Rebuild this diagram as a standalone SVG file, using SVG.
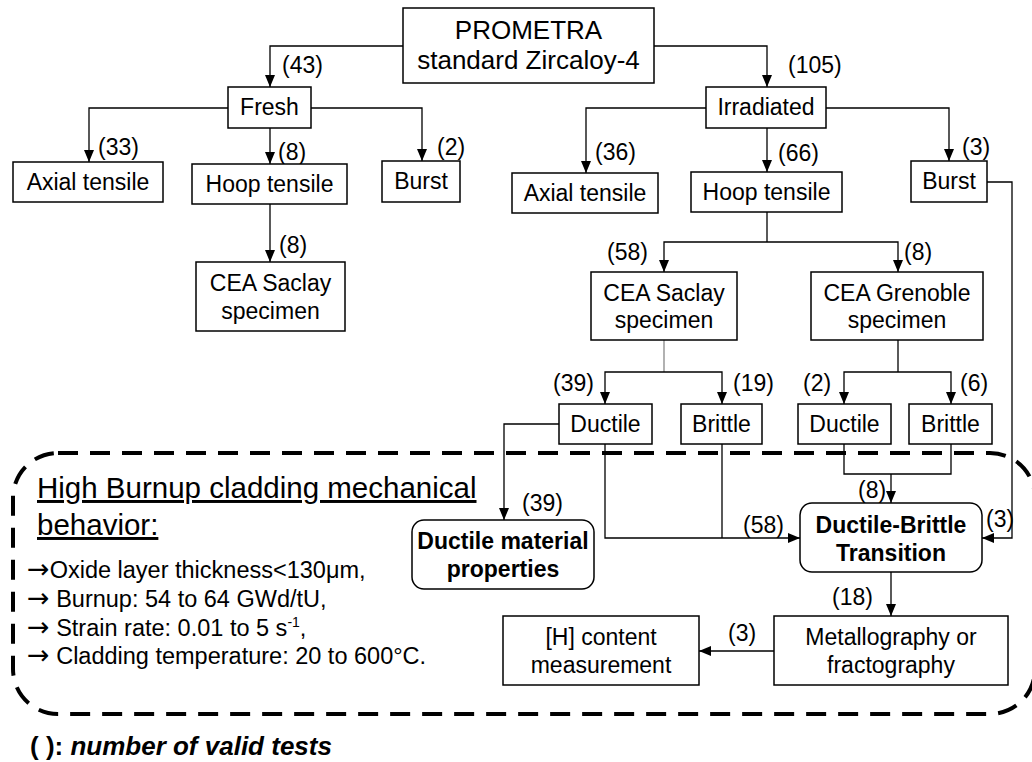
<svg xmlns="http://www.w3.org/2000/svg" width="1032" height="762" viewBox="0 0 1032 762">
<defs>
<marker id="arr" markerUnits="userSpaceOnUse" markerWidth="12" markerHeight="10" refX="12" refY="5" orient="auto">
<path d="M0,0 L12,5 L0,10 z" fill="#000"/>
</marker>
<style>
.box{fill:#fff;stroke:#000;stroke-width:1.5}
.t{font-family:"Liberation Sans",Arial,sans-serif;font-size:23px;fill:#000;text-anchor:middle}
.b{font-weight:bold}
.lbl{font-family:"Liberation Sans",Arial,sans-serif;font-size:23px;fill:#000}
.c{fill:none;stroke:#000;stroke-width:1.3}
.ca{fill:none;stroke:#000;stroke-width:1.3;marker-end:url(#arr)}
.g{stroke:#888}
.note{font-family:"Liberation Sans",Arial,sans-serif;fill:#000}
.ar{font-family:"DejaVu Sans",sans-serif;font-size:27px}
</style>
</defs>
<rect x="0" y="0" width="1032" height="762" fill="#fff"/>

<g id="region">
<rect x="13" y="453" width="1022" height="261" rx="45" ry="45" fill="none" stroke="#000" stroke-width="4" stroke-dasharray="20 12"/>
</g>

<g id="connectors">
<path class="ca" d="M403,46 H270 V87"/>
<path class="ca" d="M654,46 H767 V87"/>
<path class="ca" d="M228,108 H89 V162"/>
<path class="ca" d="M270,128 V164"/>
<path class="ca" d="M311,108 H422 V161"/>
<path class="ca" d="M270,204 V262"/>
<path class="ca" d="M706,108 H586 V173"/>
<path class="ca" d="M767,128 V172"/>
<path class="ca" d="M826,108 H949 V161"/>
<path class="c" d="M767,212 V242"/>
<path class="ca" d="M767,242 H664 V272"/>
<path class="ca" d="M767,242 H898 V272"/>
<path class="c g" d="M664,340 V372"/>
<path class="ca" d="M664,372 H605 V404"/>
<path class="ca" d="M664,372 H722 V404"/>
<path class="c" d="M898,340 V372"/>
<path class="ca" d="M898,372 H844 V404"/>
<path class="ca" d="M898,372 H951 V404"/>
<path class="ca" d="M559,424 H504 V520"/>
<path class="ca" d="M605,444 V538 H800"/>
<path class="c" d="M722,444 V538"/>
<path class="c" d="M844,444 V474 H951 V444"/>
<path class="ca" d="M891,474 V503"/>
<path class="ca" d="M987,182 H1012 V538 H982"/>
<path class="ca" d="M891,572 V616"/>
<path class="ca" d="M774,651 H699"/>
</g>

<g id="labels">
<text class="lbl" x="282" y="73">(43)</text>
<text class="lbl" x="788" y="73">(105)</text>
<text class="lbl" x="98" y="155">(33)</text>
<text class="lbl" x="278" y="160">(8)</text>
<text class="lbl" x="437" y="155">(2)</text>
<text class="lbl" x="279" y="253">(8)</text>
<text class="lbl" x="595" y="160">(36)</text>
<text class="lbl" x="778" y="161">(66)</text>
<text class="lbl" x="962" y="155">(3)</text>
<text class="lbl" x="607" y="260">(58)</text>
<text class="lbl" x="904" y="260">(8)</text>
<text class="lbl" x="553" y="391">(39)</text>
<text class="lbl" x="733" y="391">(19)</text>
<text class="lbl" x="803" y="391">(2)</text>
<text class="lbl" x="960" y="391">(6)</text>
<text class="lbl" x="522" y="511">(39)</text>
<text class="lbl" x="743" y="533">(58)</text>
<text class="lbl" x="858" y="498">(8)</text>
<text class="lbl" x="986" y="527">(3)</text>
<text class="lbl" x="832" y="605">(18)</text>
<text class="lbl" x="728" y="641">(3)</text>
</g>

<g id="prometra">
<rect class="box" x="403" y="8" width="251" height="75"/>
<text class="t" x="528.5" y="39" style="font-size:26px">PROMETRA</text>
<text class="t" x="528.5" y="69" style="font-size:26px">standard Zircaloy-4</text>
</g>
<g id="fresh">
<rect class="box" x="228" y="87" width="83" height="41"/>
<text class="t" x="269.5" y="115">Fresh</text>
</g>
<g id="axial_fresh">
<rect class="box" x="13" y="162" width="150" height="40"/>
<text class="t" x="88" y="190">Axial tensile</text>
</g>
<g id="hoop_fresh">
<rect class="box" x="192" y="164" width="155" height="40"/>
<text class="t" x="269.5" y="192">Hoop tensile</text>
</g>
<g id="burst_fresh">
<rect class="box" x="382" y="161" width="78" height="41"/>
<text class="t" x="421" y="189">Burst</text>
</g>
<g id="saclay_fresh">
<rect class="box" x="196" y="262" width="149" height="69"/>
<text class="t" x="270.5" y="291">CEA Saclay</text>
<text class="t" x="270.5" y="319">specimen</text>
</g>
<g id="irradiated">
<rect class="box" x="706" y="87" width="120" height="41"/>
<text class="t" x="766" y="115">Irradiated</text>
</g>
<g id="axial_irr">
<rect class="box" x="512" y="173" width="146" height="40"/>
<text class="t" x="585" y="201">Axial tensile</text>
</g>
<g id="hoop_irr">
<rect class="box" x="691" y="172" width="151" height="40"/>
<text class="t" x="766.5" y="200">Hoop tensile</text>
</g>
<g id="burst_irr">
<rect class="box" x="911" y="161" width="76" height="41"/>
<text class="t" x="949" y="189">Burst</text>
</g>
<g id="saclay_irr">
<rect class="box" x="591" y="272" width="146" height="68"/>
<text class="t" x="664" y="301">CEA Saclay</text>
<text class="t" x="664" y="328">specimen</text>
</g>
<g id="grenoble">
<rect class="box" x="811" y="272" width="172" height="68"/>
<text class="t" x="897" y="301">CEA Grenoble</text>
<text class="t" x="897" y="328">specimen</text>
</g>
<g id="ductile_saclay">
<rect class="box" x="559" y="404" width="93" height="40"/>
<text class="t" x="605.5" y="432">Ductile</text>
</g>
<g id="brittle_saclay">
<rect class="box" x="681" y="404" width="81" height="40"/>
<text class="t" x="721.5" y="432">Brittle</text>
</g>
<g id="ductile_grenoble">
<rect class="box" x="798" y="404" width="93" height="40"/>
<text class="t" x="844.5" y="432">Ductile</text>
</g>
<g id="brittle_grenoble">
<rect class="box" x="909" y="404" width="83" height="40"/>
<text class="t" x="950.5" y="432">Brittle</text>
</g>
<g id="ductile_props">
<rect class="box" x="412" y="520" width="182" height="69" rx="12" ry="12"/>
<text class="t b" x="503" y="549">Ductile material</text>
<text class="t b" x="503" y="577">properties</text>
</g>
<g id="dbt">
<rect class="box" x="800" y="503" width="182" height="69" rx="12" ry="12"/>
<text class="t b" x="891" y="533">Ductile-Brittle</text>
<text class="t b" x="891" y="561">Transition</text>
</g>
<g id="metallography">
<rect class="box" x="774" y="616" width="234" height="69"/>
<text class="t" x="891" y="645">Metallography or</text>
<text class="t" x="891" y="673">fractography</text>
</g>
<g id="h_content">
<rect class="box" x="503" y="616" width="196" height="69"/>
<text class="t" x="601" y="645">[H] content</text>
<text class="t" x="601" y="673">measurement</text>
</g>

<g id="notes">
<text class="note" x="37" y="498" style="font-size:29.5px;text-decoration:underline">High Burnup cladding mechanical</text>
<text class="note" x="37" y="535" style="font-size:29.5px;text-decoration:underline">behavior:</text>
<text class="note" x="27" y="578" style="font-size:23.5px"><tspan class="ar">→</tspan>Oxide layer thickness&lt;130μm,</text>
<text class="note" x="27" y="607" style="font-size:23.5px"><tspan class="ar">→</tspan> Burnup: 54 to 64 GWd/tU,</text>
<text class="note" x="27" y="636" style="font-size:23.5px"><tspan class="ar">→</tspan> Strain rate: 0.01 to 5 s<tspan dy="-9" style="font-size:14px">-1</tspan><tspan dy="9">,</tspan></text>
<text class="note" x="27" y="664" style="font-size:23.5px"><tspan class="ar">→</tspan> Cladding temperature: 20 to 600°C.</text>
<text class="note" x="30" y="755" style="font-size:26px;font-weight:bold">( ): <tspan style="font-style:italic">number of valid tests</tspan></text>
</g>
</svg>
